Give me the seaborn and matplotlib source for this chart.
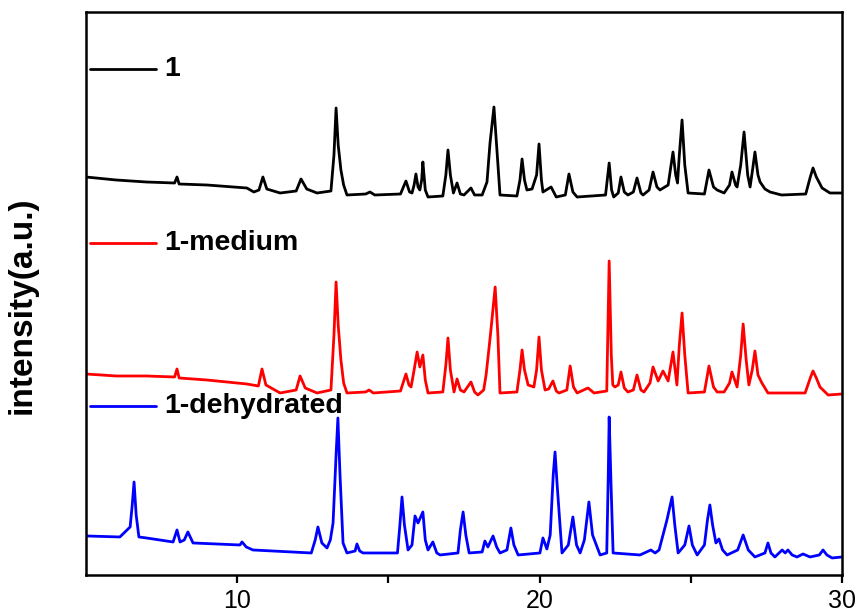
import matplotlib
matplotlib.use("Agg")
import matplotlib.pyplot as plt
import seaborn as sns
import pandas as pd

# 2-theta (deg) and stacked intensity (a.u.)
two_theta_1 = [5.00, 6.0, 7.0, 7.93, 8.01, 8.08, 9.0, 10.32, 10.55, 10.72,
               10.85, 10.98, 11.42, 11.95, 12.11, 12.3, 12.64, 13.10, 13.20, 13.27,
               13.34, 13.43, 13.52, 13.63, 14.25, 14.39, 14.55, 15.40, 15.58, 15.70,
               15.78, 15.85, 15.91, 15.98, 16.04, 16.10, 16.14, 16.22, 16.31, 16.80,
               16.90, 16.97, 17.05, 17.15, 17.27, 17.38, 17.50, 17.73, 17.85, 18.10,
               18.26, 18.36, 18.49, 18.60, 18.69, 19.25, 19.35, 19.42, 19.50, 19.58,
               19.75, 19.90, 19.98, 20.06, 20.11, 20.38, 20.55, 20.85, 20.97, 21.10,
               21.24, 22.18, 22.30, 22.38, 22.45, 22.60, 22.69, 22.80, 22.92, 23.10,
               23.22, 23.35, 23.42, 23.62, 23.75, 23.88, 23.98, 24.25, 24.41, 24.50,
               24.56, 24.62, 24.71, 24.80, 24.91, 25.45, 25.60, 25.75, 25.87, 26.10,
               26.28, 26.36, 26.48, 26.53, 26.65, 26.76, 26.88, 26.96, 27.04, 27.12,
               27.22, 27.29, 27.45, 27.62, 28.00, 28.80, 28.95, 29.04, 29.15, 29.34,
               29.60, 30.00]
intensity_1 = [398, 395, 393, 392, 398, 391, 390, 387, 383, 385,
               398, 386, 382, 384, 396, 386, 382, 384, 420, 467,
               430, 405, 390, 380, 381, 383, 380, 381, 394, 383,
               382, 390, 401, 388, 385, 395, 413, 385, 378, 379,
               400, 425, 400, 382, 392, 381, 380, 387, 380, 380,
               393, 432, 468, 420, 380, 379, 395, 416, 395, 385,
               386, 400, 431, 395, 383, 388, 378, 380, 401, 383,
               378, 380, 412, 385, 378, 382, 398, 383, 380, 383,
               397, 382, 380, 385, 403, 388, 385, 390, 423, 400,
               392, 420, 455, 410, 382, 381, 405, 388, 385, 382,
               390, 403, 390, 388, 410, 443, 400, 388, 405, 423,
               400, 393, 386, 383, 380, 381, 398, 407, 398, 387,
               382, 382]

two_theta_2 = [5.00, 6.0, 7.0, 7.93, 8.01, 8.08, 9.0, 10.32, 10.70, 10.82,
               10.95, 11.42, 11.95, 12.08, 12.25, 12.64, 13.10, 13.20, 13.27, 13.34,
               13.43, 13.52, 13.63, 14.25, 14.36, 14.50, 15.40, 15.58, 15.68, 15.75,
               15.85, 15.95, 16.04, 16.14, 16.22, 16.31, 16.80, 16.90, 16.97, 17.05,
               17.17, 17.27, 17.38, 17.50, 17.73, 17.85, 17.96, 18.15, 18.23, 18.32,
               18.39, 18.53, 18.62, 18.69, 19.25, 19.35, 19.42, 19.50, 19.62, 19.81,
               19.90, 19.98, 20.06, 20.18, 20.30, 20.44, 20.55, 20.64, 20.90, 21.01,
               21.12, 21.24, 21.60, 21.80, 22.22, 22.30, 22.37, 22.42, 22.49, 22.60,
               22.69, 22.80, 22.92, 23.10, 23.22, 23.35, 23.45, 23.65, 23.75, 23.92,
               24.08, 24.25, 24.41, 24.54, 24.62, 24.71, 24.80, 24.91, 25.45, 25.60,
               25.75, 25.87, 26.10, 26.28, 26.36, 26.53, 26.65, 26.73, 26.83, 26.92,
               27.03, 27.12, 27.22, 27.35, 27.55, 28.00, 28.78, 28.95, 29.04, 29.15,
               29.27, 29.54, 30.00]
intensity_2 = [201, 199, 199, 198, 206, 197, 195, 191, 189, 206,
               190, 182, 185, 199, 187, 182, 185, 240, 293, 250,
               215, 192, 182, 183, 185, 182, 184, 201, 190, 188,
               205, 223, 208, 220, 195, 182, 183, 210, 237, 205,
               183, 196, 185, 183, 193, 183, 180, 185, 200, 225,
               245, 288, 240, 182, 183, 205, 225, 205, 190, 188,
               205, 238, 205, 185, 186, 194, 184, 182, 185, 209,
               188, 182, 187, 182, 184, 314, 220, 190, 188, 190,
               203, 187, 183, 185, 200, 185, 183, 192, 208, 194,
               204, 194, 223, 190, 230, 262, 220, 182, 183, 209,
               188, 183, 183, 192, 203, 188, 220, 251, 215, 190,
               205, 224, 200, 192, 182, 182, 182, 197, 204, 197,
               188, 180, 181]

two_theta_3 = [5.03, 6.12, 6.46, 6.53, 6.59, 6.66, 6.75, 7.0, 7.88, 8.01,
               8.11, 8.25, 8.37, 8.54, 10.09, 10.16, 10.30, 10.52, 12.45, 12.58,
               12.67, 12.80, 12.97, 13.08, 13.17, 13.27, 13.33, 13.40, 13.50, 13.63,
               13.90, 13.96, 14.05, 14.16, 15.30, 15.38, 15.45, 15.53, 15.65, 15.78,
               15.88, 15.98, 16.14, 16.22, 16.31, 16.47, 16.60, 16.71, 17.30, 17.38,
               17.47, 17.56, 17.67, 18.10, 18.19, 18.29, 18.46, 18.58, 18.69, 18.92,
               19.05, 19.15, 19.29, 20.01, 20.11, 20.24, 20.35, 20.45, 20.51, 20.58,
               20.74, 20.95, 21.10, 21.22, 21.34, 21.48, 21.63, 21.75, 22.00, 22.22,
               22.27, 22.30, 22.36, 22.43, 23.32, 23.68, 23.82, 23.95, 24.21, 24.38,
               24.47, 24.58, 24.80, 24.94, 25.05, 25.21, 25.45, 25.55, 25.63, 25.72,
               25.83, 25.93, 26.05, 26.20, 26.55, 26.73, 26.90, 27.12, 27.45, 27.55,
               27.65, 27.78, 28.02, 28.12, 28.21, 28.35, 28.51, 28.71, 28.94, 29.25,
               29.37, 29.50, 29.67, 30.00]
intensity_3 = [39, 38, 48, 70, 93, 60, 38, 37, 33, 45,
               33, 35, 43, 32, 30, 33, 28, 25, 22, 35,
               48, 32, 27, 35, 52, 120, 157, 100, 32, 22,
               24, 31, 24, 22, 22, 50, 78, 50, 25, 30,
               59, 52, 63, 35, 25, 33, 22, 20, 22, 45,
               63, 40, 22, 23, 34, 28, 39, 28, 22, 25,
               47, 30, 20, 22, 37, 26, 40, 100, 123, 90,
               22, 30, 58, 30, 22, 35, 73, 40, 20, 22,
               100, 158, 92, 22, 20, 25, 22, 25, 55, 78,
               50, 22, 30, 49, 30, 20, 30, 55, 70, 50,
               32, 36, 25, 20, 25, 40, 25, 18, 22, 32,
               22, 18, 25, 22, 25, 20, 18, 21, 18, 20,
               25, 20, 17, 18]

series_names = ["1", "1-medium", "1-dehydrated"]
series_colors = ["#000000", "#ff0000", "#0000ff"]
x_ticks = [10, 20, 30]

frames = []
for name, xs, ys in zip(series_names,
                        [two_theta_1, two_theta_2, two_theta_3],
                        [intensity_1, intensity_2, intensity_3]):
    assert len(xs) == len(ys), name
    frames.append(pd.DataFrame({"two_theta": xs, "intensity": ys, "sample": name}))
df = pd.concat(frames, ignore_index=True)

sns.set_style("white")
plt.rcParams["font.family"] = ["Liberation Sans", "DejaVu Sans"]
plt.rcParams["text.color"] = "black"
plt.rcParams["axes.labelcolor"] = "black"
plt.rcParams["xtick.color"] = "black"

fig = plt.figure(figsize=(8.58, 6.16), dpi=100)
ax = fig.add_axes([0.1002, 0.0666, 0.8812, 0.9139])

sns.lineplot(data=df, x="two_theta", y="intensity", hue="sample",
             hue_order=series_names, palette=series_colors,
             estimator=None, sort=False, linewidth=2.0, legend=False, ax=ax)

ax.set_xlim(5, 30)
ax.set_ylim(0, 563)
ax.set_xticks(x_ticks)
ax.set_xticks([15, 25], minor=True)
ax.set_xticklabels([str(t) for t in x_ticks], fontsize=18, color="black")
ax.set_yticks([])
ax.tick_params(axis="x", which="both", direction="out", length=6, width=1.6,
               bottom=True, pad=4, colors="black")
ax.set_xlabel("")
ax.set_ylabel("intensity(a.u.)", fontsize=24, fontweight="bold", color="black")
ax.yaxis.set_label_coords(-0.0635, 0.48)
for sp in ax.spines.values():
    sp.set_linewidth(1.8)
    sp.set_color("black")

# inline legend entries next to each trace
legend_y = [0.899, 0.590, 0.300]
for name, color, ly in zip(series_names, series_colors, legend_y):
    ax.plot([0.005, 0.093], [ly, ly], color=color, lw=2.0, transform=ax.transAxes)
    ax.text(0.103, ly, name, transform=ax.transAxes, fontsize=20.5,
            fontweight="bold", va="center", ha="left", color="black")

fig.savefig("out.png", dpi=100)
